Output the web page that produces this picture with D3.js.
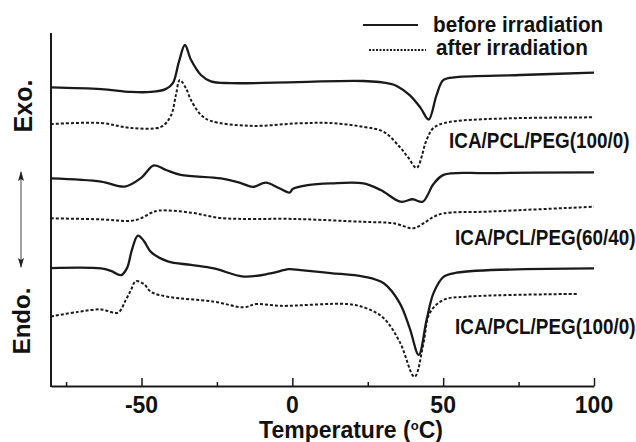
<!DOCTYPE html>
<html>
<head>
<meta charset="utf-8">
<script src="https://cdn.jsdelivr.net/npm/d3@7"></script>
<style>
  body { margin: 0; background: #fff; }
  text { font-family: "Liberation Sans", Arial, sans-serif; font-weight: bold; fill: #111; }
</style>
</head>
<body>
<svg id="chart" width="636" height="442"></svg>
<script>
// DSC traces, temperature (°C) and heat flow (a.u., offset)
var tTopBefore = [-80, -63.4, -53.5, -47, -42, -39.6, -37.6, -35.6, -33.6, -30.3, -27, -20.4, 1.8, 23.6, 32.6, 34.6, 38.9, 42.5, 45.2, 47.8, 50.1, 54.4, 75.6, 100];
var hTopBefore = [84.6, 84.1, 83.3, 83.3, 84.1, 85.8, 91.8, 96.6, 92.4, 88.1, 86.3, 85.8, 86.1, 86.4, 85.6, 85.0, 82.4, 78.8, 75.5, 82.4, 86.7, 87.5, 88.1, 88.8];
var tTopAfter = [-80, -63.4, -53.5, -43.6, -40.3, -38.6, -37.3, -35.3, -33.6, -30.3, -27, -13.8, 1.8, 12.7, 23.6, 30.3, 35.6, 38.5, 41.2, 44.5, 46.8, 52.1, 100];
var hTopAfter = [74.2, 74.5, 73.1, 73.4, 76.5, 82.4, 86.7, 84.4, 81.0, 76.8, 75.1, 73.7, 74.4, 74.5, 73.4, 72.0, 67.7, 64.6, 61.8, 69.7, 73.1, 74.8, 76.1];

var tMidBefore = [-80, -63.4, -55.5, -50.2, -45.9, -41.9, -37, -23.7, -17.1, -13.1, -8.8, -4.5, -0.9, 0.1, 5.1, 12.7, 23.6, 29.3, 35.9, 39.9, 43.2, 46.8, 50.1, 64.7, 100];
var hMidBefore = [58.8, 57.9, 56.5, 58.9, 62.5, 61.2, 59.8, 58.8, 57.5, 56.4, 57.6, 56.1, 54.8, 55.8, 56.9, 57.4, 57.4, 55.5, 52.2, 52.9, 52.2, 57.2, 59.8, 60.3, 60.5];
var tMidAfter = [-80, -63.4, -53.5, -50.2, -46.9, -44.2, -33.6, -23.7, 1.8, 23.6, 33.6, 40.2, 44.2, 46.8, 50.1, 64.7, 100];
var hMidAfter = [47.5, 47.2, 46.8, 47.5, 49.0, 49.7, 49.1, 47.6, 47.3, 46.5, 46.1, 44.7, 46.5, 47.9, 48.9, 49.4, 50.8];

var tLowBefore = [-80, -63.4, -60.1, -56.8, -54.8, -53.2, -51.2, -49.2, -46.9, -41.3, -33.6, -26, -16.1, -7.2, -1.2, 2.8, 12.7, 23.6, 30.3, 35.6, 38.9, 41.9, 44.5, 46.8, 50.1, 54.4, 100];
var hLowBefore = [33.4, 33.3, 32.6, 31.4, 33.4, 38.5, 42.6, 41.1, 38.0, 35.3, 34.3, 33.3, 31.0, 31.9, 33.1, 32.8, 32.0, 31.0, 29.1, 23.5, 16.4, 8.8, 18.7, 26.3, 30.9, 32.1, 33.3];
var tLowAfter = [-80, -71.1, -63.4, -57.8, -55.2, -53.5, -51.9, -49.2, -46.9, -41.3, -26, -16.1, -12.1, -3.8, 18.3, 24.6, 30.3, 35.6, 40.5, 43.5, 45.5, 50.1, 57.7, 94.8];
var hLowAfter = [19.7, 21.0, 21.7, 20.8, 24.4, 27.2, 29.7, 28.9, 26.7, 25.3, 23.9, 22.3, 23.2, 22.7, 23.2, 22.0, 19.2, 12.5, 2.6, 12.2, 20.6, 24.4, 25.3, 26.1];

var xTicksMajor = [-50, 0, 50, 100];
var xTicksMinor = [-75, -25, 25, 75];
var sampleLabels = ["ICA/PCL/PEG(100/0)", "ICA/PCL/PEG(60/40)", "ICA/PCL/PEG(100/0)"];
var legendLabels = ["before irradiation", "after irradiation"];

var svg = d3.select("#chart");
var plotLeft = 51, plotRight = 594, plotTop = 33, plotBottom = 386;

var x = d3.scaleLinear().domain([-80, 100]).range([plotLeft, plotRight]);
var y = d3.scaleLinear().domain([0, 100]).range([plotBottom, plotTop]);

function zip(ts, hs) {
  return ts.map(function(t, i) { return [t, hs[i]]; });
}

var line = d3.line()
  .x(function(d) { return x(d[0]); })
  .y(function(d) { return y(d[1]); })
  .curve(d3.curveCatmullRom.alpha(0.5));

var curves = [
  { data: zip(tTopBefore, hTopBefore), dash: null },
  { data: zip(tTopAfter, hTopAfter), dash: "3,2" },
  { data: zip(tMidBefore, hMidBefore), dash: null },
  { data: zip(tMidAfter, hMidAfter), dash: "3,2" },
  { data: zip(tLowBefore, hLowBefore), dash: null },
  { data: zip(tLowAfter, hLowAfter), dash: "3,2" }
];

svg.selectAll("path.trace")
  .data(curves)
  .enter().append("path")
  .attr("class", "trace")
  .attr("d", function(d) { return line(d.data); })
  .attr("fill", "none")
  .attr("stroke", "#1a1a1a")
  .attr("stroke-width", function(d) { return d.dash ? 2 : 2.3; })
  .attr("stroke-dasharray", function(d) { return d.dash; });

// axes
svg.append("line")
  .attr("x1", plotLeft).attr("x2", plotLeft)
  .attr("y1", plotTop).attr("y2", plotBottom + 1)
  .attr("stroke", "#1a1a1a").attr("stroke-width", 2);

var xAxis = svg.append("g")
  .attr("transform", "translate(0," + plotBottom + ")")
  .call(d3.axisBottom(x).tickValues(xTicksMajor).tickSizeInner(-8).tickSizeOuter(0).tickPadding(0).tickFormat(""));
xAxis.select(".domain").attr("stroke", "#1a1a1a").attr("stroke-width", 2);
xAxis.selectAll(".tick line").attr("stroke", "#1a1a1a").attr("stroke-width", 1.5);

svg.append("g")
  .attr("transform", "translate(0," + plotBottom + ")")
  .call(d3.axisBottom(x).tickValues(xTicksMinor).tickSizeInner(-4).tickSizeOuter(0).tickFormat(""))
  .call(function(g) { g.select(".domain").remove(); })
  .selectAll(".tick line").attr("stroke", "#1a1a1a").attr("stroke-width", 1.5);

svg.selectAll("text.ticklab")
  .data(xTicksMajor)
  .enter().append("text")
  .attr("class", "ticklab")
  .attr("x", function(d) { return x(d); })
  .attr("y", 413)
  .attr("text-anchor", "middle")
  .style("font-size", "23px")
  .text(function(d) { return d; });

var title = svg.append("text")
  .attr("x", 351).attr("y", 438)
  .attr("text-anchor", "middle")
  .style("font-size", "23px");
title.append("tspan").text("Temperature (");
title.append("tspan").attr("dy", -8).style("font-size", "13px").text("o");
title.append("tspan").attr("dy", 8).text("C)");

// Exo / Endo labels
svg.append("text")
  .attr("transform", "translate(32,106) rotate(-90)")
  .attr("text-anchor", "middle")
  .style("font-size", "25px")
  .text("Exo.");
svg.append("text")
  .attr("transform", "translate(30,321) rotate(-90)")
  .attr("text-anchor", "middle")
  .style("font-size", "24px")
  .text("Endo.");

var defs = svg.append("defs");
defs.append("marker")
  .attr("id", "ah")
  .attr("viewBox", "0 0 10 10")
  .attr("refX", 9).attr("refY", 5)
  .attr("markerWidth", 10).attr("markerHeight", 6)
  .attr("markerUnits", "userSpaceOnUse")
  .attr("orient", "auto-start-reverse")
  .attr("preserveAspectRatio", "none")
  .append("path").attr("d", "M0,0L10,5L0,10L2,5z").attr("fill", "#222");
svg.append("line")
  .attr("x1", 21).attr("x2", 21)
  .attr("y1", 172).attr("y2", 267)
  .attr("stroke", "#444").attr("stroke-width", 1)
  .attr("marker-start", "url(#ah)")
  .attr("marker-end", "url(#ah)");

// sample labels, slightly condensed
var labelPos = [[449, 148], [455, 245], [455, 334]];
svg.selectAll("text.sample")
  .data(sampleLabels)
  .enter().append("text")
  .attr("class", "sample")
  .attr("transform", function(d, i) { return "translate(" + labelPos[i][0] + "," + labelPos[i][1] + ") scale(0.84,1)"; })
  .style("font-size", "22.5px")
  .text(function(d) { return d; });

// legend
var legend = svg.append("g");
legend.append("line").attr("x1", 363).attr("x2", 418).attr("y1", 25).attr("y2", 25)
  .attr("stroke", "#1a1a1a").attr("stroke-width", 2);
legend.append("line").attr("x1", 369).attr("x2", 426).attr("y1", 50).attr("y2", 50)
  .attr("stroke", "#1a1a1a").attr("stroke-width", 1.8).attr("stroke-dasharray", "2,1.5");
legend.selectAll("text")
  .data(legendLabels)
  .enter().append("text")
  .attr("transform", function(d, i) { return "translate(" + (i ? 436 : 433) + "," + (i ? 55 : 31.5) + ") scale(0.92,1)"; })
  .style("font-size", "22.5px")
  .text(function(d) { return d; });
</script>
</body>
</html>
